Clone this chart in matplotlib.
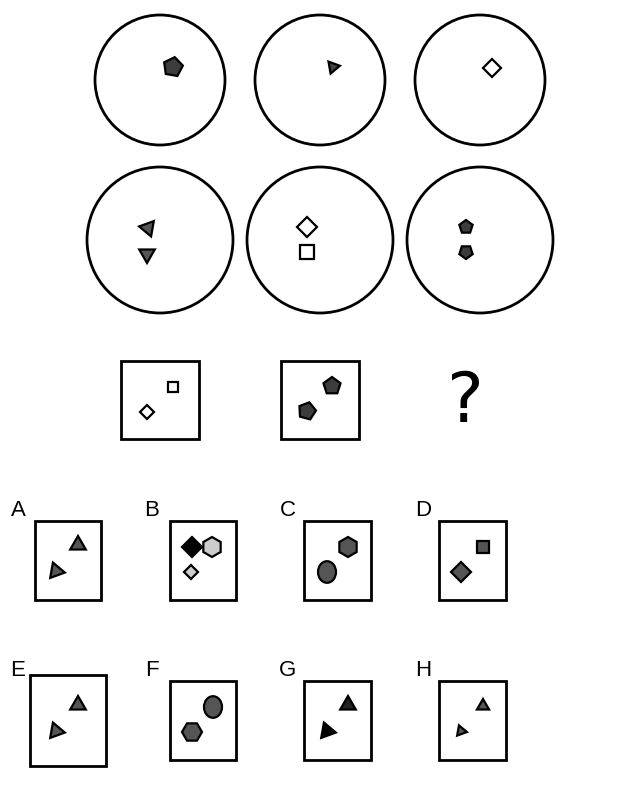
import matplotlib
matplotlib.use("Agg")
import matplotlib.pyplot as plt
import numpy as np
from matplotlib.patches import Circle, Rectangle, RegularPolygon, Ellipse

# circles: (cx, cy, r)
circles = [(160, 80, 65), (320, 80, 65), (480, 80, 65),
           (160, 240, 73), (320, 240, 73), (480, 240, 73)]
# boxes: (x0, y0, x1, y1)
boxes = [(121, 361, 199, 439), (281, 361, 359, 439),
         (35, 521, 101, 600), (170, 521, 236, 600), (304, 521, 371, 600), (439, 521, 506, 600),
         (30, 675, 106, 766), (170, 681, 236, 760), (304, 681, 371, 760), (439, 681, 506, 760)]
labels = ["A", "B", "C", "D", "E", "F", "G", "H"]
label_pos = [(18, 511), (152, 511), (288, 511), (423, 511),
             (18, 670), (152, 670), (288, 670), (423, 670)]
# shapes: (kind, x, y, size, rotation deg, face)
shapes = [
    ("poly5", 173, 67, 10, 10, "#3c3c3c"),
    ("poly3", 333, 67, 7, 80, "#444444"),
    ("poly4", 492, 68, 9, 0, "white"),
    ("poly3", 148, 228, 9, -80, "#555555"),
    ("poly3", 147, 254, 9, 180, "#555555"),
    ("poly4", 307, 227, 10, 0, "white"),
    ("square", 307, 252, 7, 0, "white"),
    ("poly5", 466, 227, 7, 0, "#3c3c3c"),
    ("poly5", 466, 252, 7, 180, "#3c3c3c"),
    ("square", 173, 387, 5, 0, "white"),
    ("poly4", 147, 412, 7, 0, "white"),
    ("poly5", 332, 386, 9, 0, "#3c3c3c"),
    ("poly5", 307, 411, 9, 15, "#3c3c3c"),
    # A
    ("poly3", 78, 545, 9, 0, "#555555"),
    ("poly3", 56, 571, 9, -20, "#555555"),
    # B
    ("poly4", 192, 547, 10, 0, "black"),
    ("hex", 212, 547, 10, 0, "#cccccc"),
    ("poly4", 191, 572, 7, 0, "#cccccc"),
    # C
    ("hex", 348, 547, 10, 0, "#555555"),
    ("ellipse", 327, 572, 9, 0, "#555555"),
    # D
    ("square", 483, 547, 6, 0, "#555555"),
    ("poly4", 461, 572, 10, 0, "#555555"),
    # E
    ("poly3", 78, 705, 9, 0, "#555555"),
    ("poly3", 56, 731, 9, -20, "#555555"),
    # F
    ("ellipse", 213, 707, 9, 0, "#555555"),
    ("hex", 192, 732, 10, 90, "#555555"),
    # G
    ("poly3", 348, 705, 9, 0, "#222222"),
    ("poly3", 327, 731, 9, -20, "black"),
    # H
    ("poly3", 483, 706, 7, 0, "#555555"),
    ("poly3", 461, 731, 6, -20, "#555555"),
]

fig = plt.figure(figsize=(6.4, 8.0), dpi=100)
ax = fig.add_axes([0, 0, 1, 1])
ax.set_xlim(0, 640)
ax.set_ylim(800, 0)
ax.axis("off")

for cx, cy, r in circles:
    ax.add_patch(Circle((cx, cy), r, fill=False, lw=2, ec="black"))
for x0, y0, x1, y1 in boxes:
    ax.add_patch(Rectangle((x0, y0), x1 - x0, y1 - y0, fill=False, lw=2, ec="black"))
for t, (x, y) in zip(labels, label_pos):
    ax.text(x, y, t, fontsize=16, ha="center", va="center", family="Liberation Sans")
ax.text(465, 402, "?", fontsize=50, ha="center", va="center", family="Liberation Sans Narrow")

for kind, x, y, s, rot, fc in shapes:
    kw = dict(fc=fc, ec="black", lw=1.6)
    if kind.startswith("poly"):
        n = int(kind[4:])
        p = RegularPolygon((x, y), n, radius=s, orientation=np.pi + np.deg2rad(rot), **kw)
        if n == 4:
            p = RegularPolygon((x, y), 4, radius=s, orientation=0, **kw)
    elif kind == "hex":
        p = RegularPolygon((x, y), 6, radius=s, orientation=np.deg2rad(rot), **kw)
    elif kind == "square":
        p = Rectangle((x - s, y - s), 2 * s, 2 * s, **kw)
    else:
        p = Ellipse((x, y), 2 * s, 2.4 * s, **kw)
    ax.add_patch(p)

fig.savefig("out.png", dpi=100)
